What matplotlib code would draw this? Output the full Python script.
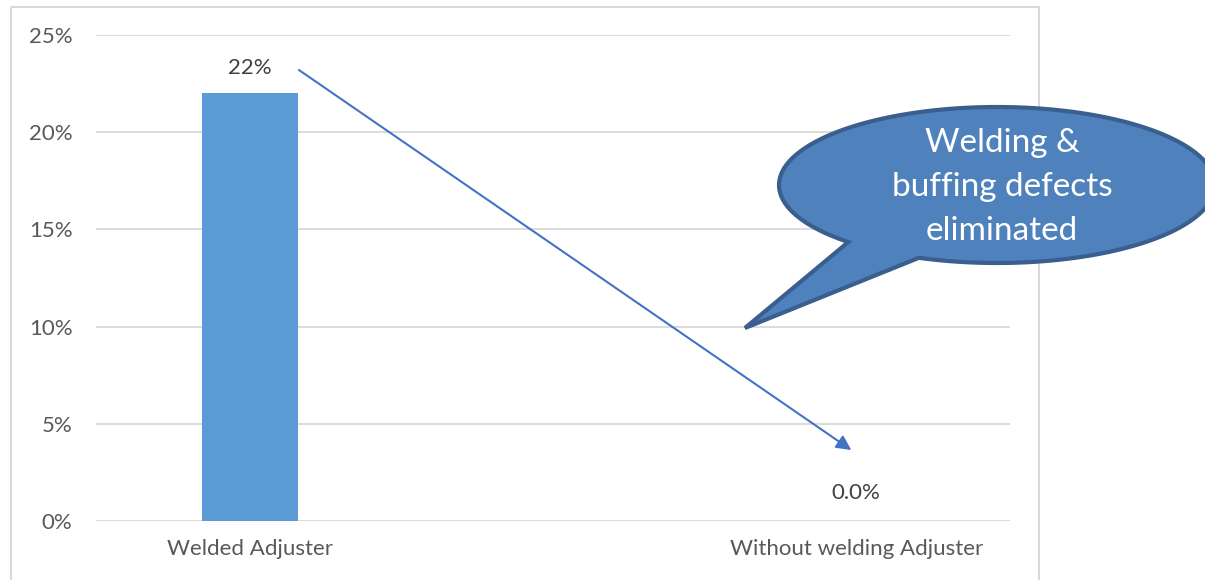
import numpy as np
import matplotlib
matplotlib.use("Agg")
import matplotlib.pyplot as plt
from matplotlib.patches import Polygon, Rectangle
from matplotlib.ticker import PercentFormatter

categories = ["Welded Adjuster", "Without welding Adjuster"]
values = [0.22, 0.0]
value_labels = ["22%", "0.0%"]
yticks = [0.0, 0.05, 0.10, 0.15, 0.20, 0.25]
callout_text = "Welding &\nbuffing defects\neliminated"

W, H = 1205, 580
plt.rcParams["font.family"] = ["Lato", "DejaVu Sans"]

fig = plt.figure(figsize=(W / 100, H / 100), dpi=100)

# plot area (pixel bounds)
left, right, top, bottom = 96, 1010, 35, 521
ax = fig.add_axes([left / W, 1 - bottom / H, (right - left) / W, (bottom - top) / H])

x = np.arange(len(categories))
ax.bar(x, values, width=0.158, color="#5b9bd5", zorder=3)
ax.set_xlim(-0.2537, 1.2537)
ax.set_ylim(0, 0.25)
ax.set_yticks(yticks)
ax.yaxis.set_major_formatter(PercentFormatter(1.0, decimals=0))
ax.grid(axis="y", color="#d9d9d9", lw=1.3, zorder=0)
ax.set_xticks(x)
ax.set_xticklabels(categories)
ax.tick_params(axis="both", length=0, colors="#595959", labelsize=16)
ax.tick_params(axis="y", pad=17)
ax.tick_params(axis="x", pad=13)
for s in ax.spines.values():
    s.set_visible(False)

for xi, v, lab in zip(x, values, value_labels):
    ax.annotate(lab, (xi, v), xytext=(0, 11 if v > 0 else 13), textcoords="offset points",
                ha="center", va="bottom", fontsize=16, color="#404040")

# arrow from the bar to the zero value
ax.annotate("", xy=(0.992, 0.0365), xytext=(0.081, 0.232),
            arrowprops=dict(arrowstyle="-|>", color="#4472c4", lw=1.5,
                            mutation_scale=22, shrinkA=0, shrinkB=0), zorder=5)

# overlay in pixel coordinates for the frame and the callout
ov = fig.add_axes([0, 0, 1, 1], zorder=10)
ov.set_xlim(0, W)
ov.set_ylim(H, 0)
ov.axis("off")
ov.patch.set_alpha(0)

ov.add_patch(Rectangle((11, 7), 1028, 600, fill=False, ec="#d9d9d9", lw=1.5, clip_on=False))

cx, cy, a, b = 997, 185, 218, 78
t1, t2 = np.deg2rad(133), np.deg2rad(111 + 360)
t = np.linspace(t1, t2, 300)
pts = np.column_stack([cx + a * np.cos(t), cy + b * np.sin(t)])
pts = np.vstack([pts, [745, 328]])
ov.add_patch(Polygon(pts, closed=True, fc="#4f81bd", ec="#3a5f8e", lw=3, joinstyle="miter",
                     clip_on=False))
ov.text(1002, 187, callout_text, ha="center", va="center", color="white", fontsize=24,
        linespacing=1.6)

fig.savefig("out.png", dpi=100)
